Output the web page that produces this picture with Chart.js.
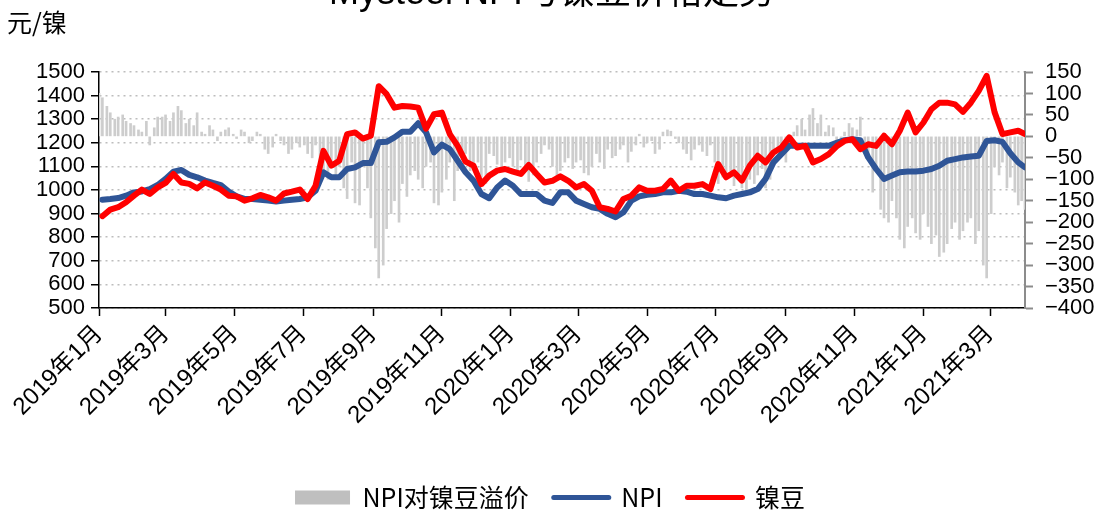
<!DOCTYPE html>
<html>
<head>
<meta charset="utf-8">
<title>Mysteel NPI与镍豆价格走势</title>
<script src="https://cdn.jsdelivr.net/npm/chart.js@4.4.0/dist/chart.umd.min.js"></script>
<style>
  html, body { margin: 0; padding: 0; background: #ffffff; }
  #wrap { width: 1100px; height: 520px; }
</style>
</head>
<body>
<div id="wrap"><canvas id="chart" width="1100" height="520"></canvas></div>
<script>
// 标题与单位
const chartTitle = 'Mysteel NPI与镍豆价格走势';
const unitLabel = '元/镍';

// 周度日期（每周五）
const weekDates = [
    '2019-01-04','2019-01-11','2019-01-18','2019-01-25',
    '2019-02-01','2019-02-08','2019-02-15','2019-02-22',
    '2019-03-01','2019-03-08','2019-03-15','2019-03-22','2019-03-29',
    '2019-04-05','2019-04-12','2019-04-19','2019-04-26',
    '2019-05-03','2019-05-10','2019-05-17','2019-05-24','2019-05-31',
    '2019-06-07','2019-06-14','2019-06-21','2019-06-28',
    '2019-07-05','2019-07-12','2019-07-19','2019-07-26',
    '2019-08-02','2019-08-09','2019-08-16','2019-08-23','2019-08-30',
    '2019-09-06','2019-09-13','2019-09-20','2019-09-27',
    '2019-10-04','2019-10-11','2019-10-18','2019-10-25',
    '2019-11-01','2019-11-08','2019-11-15','2019-11-22','2019-11-29',
    '2019-12-06','2019-12-13','2019-12-20','2019-12-27',
    '2020-01-03','2020-01-10','2020-01-17','2020-01-24','2020-01-31',
    '2020-02-07','2020-02-14','2020-02-21','2020-02-28',
    '2020-03-06','2020-03-13','2020-03-20','2020-03-27',
    '2020-04-03','2020-04-10','2020-04-17','2020-04-24',
    '2020-05-01','2020-05-08','2020-05-15','2020-05-22','2020-05-29',
    '2020-06-05','2020-06-12','2020-06-19','2020-06-26',
    '2020-07-03','2020-07-10','2020-07-17','2020-07-24','2020-07-31',
    '2020-08-07','2020-08-14','2020-08-21','2020-08-28',
    '2020-09-04','2020-09-11','2020-09-18','2020-09-25',
    '2020-10-02','2020-10-09','2020-10-16','2020-10-23','2020-10-30',
    '2020-11-06','2020-11-13','2020-11-20','2020-11-27',
    '2020-12-04','2020-12-11','2020-12-18','2020-12-25',
    '2021-01-01','2021-01-08','2021-01-15','2021-01-22','2021-01-29',
    '2021-02-05','2021-02-12','2021-02-19','2021-02-26',
    '2021-03-05','2021-03-12','2021-03-19','2021-03-26',
    '2021-04-01'
];

// NPI对镍豆溢价（右轴），周五读数
const npiPremium = [
    90, 55, 45, 35,
    25, 10, -20, 45,
    50, 55, 60, 40, 55,
    5, 15, 10, 20,
    -5, 10, -10, 5, -40,
    5, -20, -30, -25,
    -40, -20, -90, -60,
    -70, -145, -155, -70, -190,
    -330, -215, -150, -110,
    -90, -100, -70, -155,
    -130, -60, -80, -40, -70,
    -95, -40, -65, -60,
    -70, -55, -105, -60, -20,
    -70, -80, -50, -60,
    -85, -70, -60, -30,
    -45, -20, -35, 5,
    -15, -40, 10, 12, -15,
    -40, -30, -35, -20,
    -110, -90, -115, -120, -100,
    -90, -120, -40, -20,
    -15, 25, 15, 65,
    50, 25, -10, 10, 20,
    45, -55, -70, -190,
    -150, -240, -210, -225,
    -180, -250, -280, -250, -200,
    -220, -190, -220, -330,
    -70, -60, -95, -160,
    -170
];

// NPI对镍豆溢价（右轴），同周周二读数
const npiPremiumMid = [
    100, 70, 40, 50,
    30, 15, 35, 20,
    45, 35, 70, 30, 25,
    10, 25, -10, 15,
    5, 15, -15, 10, -30,
    -25, -10, -40, -15,
    -20, -50, -60, -100,
    -90, -120, -60, -160, -120,
    -260, -300, -180, -200,
    -140, -80, -120, -60,
    -160, -100, -150, -55, -80,
    -60, -110, -45, -80,
    -50, -85, -70, -90, -40,
    -30, -95, -60, -75,
    -55, -90, -40, -75,
    -50, -30, -60, -20,
    -25, -10, -30, 15, -5,
    -30, -55, -20, -45,
    -60, -95, -80, -100, -130,
    -110, -75, -100, -30,
    -60, 10, 40, 50,
    30, 10, 20, -15, 30,
    15, -30, -130, -170,
    -200, -190, -260, -190,
    -240, -210, -230, -270, -215,
    -240, -200, -250, -300,
    -180, -90, -120, -130,
    -150
];

// NPI 价格（左轴，元/镍）
const npiPrice = [
    959, 962, 966, 976,
    990, 994, 1004, 1021,
    1047, 1078, 1085, 1064, 1054,
    1040, 1030, 1021, 993,
    973, 962, 962, 959, 955,
    951, 955, 959, 962,
    969, 997, 1075, 1054,
    1054, 1089, 1096, 1114, 1114,
    1202, 1204, 1223, 1247,
    1247, 1283, 1244, 1159,
    1192, 1173, 1124, 1075, 1040,
    983, 965, 1011, 1040,
    1018, 983, 983, 983, 955,
    945, 990, 990, 955,
    941, 927, 920, 899,
    885, 906, 955, 973,
    980, 983, 990, 990, 997,
    993, 983, 983, 976,
    969, 965, 976, 983, 990,
    1004, 1047, 1117, 1152,
    1187, 1187, 1187, 1187,
    1187, 1187, 1200, 1211, 1215,
    1211, 1138, 1089, 1047,
    1061, 1075, 1078, 1078,
    1082, 1089, 1103, 1124, 1131,
    1138, 1142, 1145, 1208,
    1211, 1204, 1156, 1117,
    1096
];

// 镍豆价格（左轴，元/镍）
const nickelBean = [
    889, 917, 927, 948,
    976, 1002, 983, 1011,
    1030, 1068, 1032, 1026, 1007,
    1032, 1018, 1002, 976,
    973, 955, 965, 979, 969,
    955, 985, 993, 1002,
    962, 1018, 1166, 1103,
    1124, 1237, 1244, 1218, 1230,
    1440, 1406, 1349, 1356,
    1354, 1349, 1260, 1321,
    1328, 1237, 1187, 1120, 1103,
    1025, 1061, 1082, 1089,
    1078, 1068, 1106, 1068, 1032,
    1039, 1058, 1039, 1011,
    1025, 997, 927, 920,
    909, 962, 976, 1011,
    997, 997, 1004, 1040, 997,
    1018, 1018, 1025, 1004,
    1110, 1054, 1075, 1040, 1103,
    1145, 1117, 1159, 1180,
    1223, 1180, 1187, 1117,
    1131, 1152, 1185, 1208, 1215,
    1173, 1194, 1187, 1230,
    1194, 1251, 1328, 1244,
    1286, 1342, 1370, 1370, 1363,
    1331, 1370, 1420, 1483,
    1330, 1237, 1244, 1251,
    1237
];

// 横轴刻度（每两个月）
const xTickMonths = ['2019-01-01','2019-03-01','2019-05-01','2019-07-01','2019-09-01','2019-11-01',
    '2020-01-01','2020-03-01','2020-05-01','2020-07-01','2020-09-01','2020-11-01',
    '2021-01-01','2021-03-01'];
const xTickLabels = ['2019年1月','2019年3月','2019年5月','2019年7月','2019年9月','2019年11月',
    '2020年1月','2020年3月','2020年5月','2020年7月','2020年9月','2020年11月',
    '2021年1月','2021年3月'];
const xStart = '2019-01-01';
const xEnd = '2021-04-01';

// 日期转为自起点起的天数（线性横轴）
function dayOf(s) {
    return (Date.parse(s) - Date.parse(xStart)) / 864e5;
}
function toPoints(values, shiftDays) {
    return values.map((v, i) => ({ x: dayOf(weekDates[i]) - (shiftDays || 0), y: v }));
}
// 周五与周二两组溢价读数合并，按日期排序
const premiumPoints = toPoints(npiPremium).concat(toPoints(npiPremiumMid, 3))
    .sort((a, b) => a.x - b.x);

const blue = '#2F5597';
const red = '#FF0000';
const barGrey = '#CDCDCD';
const legendGrey = '#BFBFBF';
const tickFont = { family: '"Liberation Sans", "Noto Sans CJK SC", sans-serif', size: 22 };

// 标题（顶部被裁切）和单位
const extraText = {
    id: 'extraText',
    afterDraw(chart) {
        const ctx = chart.ctx;
        ctx.save();
        ctx.fillStyle = '#000';
        ctx.font = '36px "Liberation Sans", "Noto Sans CJK SC", sans-serif';
        ctx.textAlign = 'center';
        ctx.textBaseline = 'alphabetic';
        ctx.fillText(chartTitle, 552, 4);
        ctx.font = '25px "Noto Sans CJK SC", sans-serif';
        ctx.textAlign = 'left';
        ctx.textBaseline = 'middle';
        ctx.fillText(unitLabel, 7, 22);
        ctx.restore();
    }
};

const ctx = document.getElementById('chart').getContext('2d');
new Chart(ctx, {
    type: 'bar',
    data: {
        datasets: [
            {
                type: 'bar',
                label: 'NPI对镍豆溢价',
                data: premiumPoints,
                yAxisID: 'y1',
                backgroundColor: barGrey,
                borderWidth: 0,
                barThickness: 2,
                order: 3
            },
            {
                type: 'line',
                label: 'NPI',
                data: toPoints(npiPrice),
                yAxisID: 'y',
                borderColor: blue,
                backgroundColor: blue,
                borderWidth: 6,
                pointRadius: 0,
                tension: 0,
                borderJoinStyle: 'round',
                borderCapStyle: 'round',
                order: 2
            },
            {
                type: 'line',
                label: '镍豆',
                data: toPoints(nickelBean),
                yAxisID: 'y',
                borderColor: red,
                backgroundColor: red,
                borderWidth: 6,
                pointRadius: 0,
                tension: 0,
                borderJoinStyle: 'round',
                borderCapStyle: 'round',
                order: 1
            }
        ]
    },
    options: {
        responsive: false,
        animation: false,
        layout: { padding: { top: 72, left: 0, right: 0, bottom: 0 } },
        plugins: {
            legend: {
                position: 'bottom',
                labels: {
                    usePointStyle: true,
                    pointStyleWidth: 55,
                    boxHeight: 14,
                    padding: 25,
                    color: '#000',
                    font: { family: '"Noto Sans CJK SC", sans-serif', size: 25 },
                    sort: (a, b) => a.datasetIndex - b.datasetIndex,
                    generateLabels(chart) {
                        const items = Chart.defaults.plugins.legend.labels.generateLabels(chart);
                        items.forEach(item => {
                            const ds = chart.data.datasets[item.datasetIndex];
                            if (ds.type === 'line') {
                                item.pointStyle = 'line';
                                item.lineWidth = 5;
                                item.lineCap = 'round';
                                item.strokeStyle = ds.borderColor;
                            } else {
                                item.pointStyle = 'rect';
                                item.lineWidth = 0;
                                item.fillStyle = legendGrey;
                                item.strokeStyle = legendGrey;
                            }
                        });
                        return items;
                    }
                }
            },
            tooltip: { enabled: false }
        },
        scales: {
            x: {
                type: 'linear',
                min: 0,
                max: dayOf(xEnd),
                offset: false,
                afterBuildTicks(scale) {
                    scale.ticks = xTickMonths.map(m => ({ value: dayOf(m) }));
                },
                afterFit(scale) { scale.height = 152; },
                ticks: {
                    autoSkip: false,
                    minRotation: 45,
                    maxRotation: 45,
                    padding: 4,
                    color: '#000',
                    font: { family: tickFont.family, size: 24 },
                    callback: (value, index) => xTickLabels[index]
                },
                grid: {
                    offset: false,
                    drawOnChartArea: false,
                    drawTicks: true,
                    tickLength: 8,
                    tickColor: '#000',
                    tickWidth: 1.5
                },
                border: { color: '#000', width: 1.5 }
            },
            y: {
                position: 'left',
                min: 500,
                max: 1500,
                afterFit(scale) { scale.width = 99; },
                ticks: {
                    stepSize: 100,
                    autoSkip: false,
                    padding: 6,
                    color: '#000',
                    font: tickFont,
                    callback: v => String(v)
                },
                grid: {
                    color: '#BDBDBD',
                    lineWidth: 1.5,
                    drawTicks: true,
                    tickLength: 8,
                    tickColor: '#000',
                    tickWidth: 1.5
                },
                border: { color: '#000', width: 1.5, dash: [2, 4] }
            },
            y1: {
                position: 'right',
                min: -400,
                max: 150,
                afterFit(scale) { scale.width = 75; },
                ticks: {
                    stepSize: 50,
                    autoSkip: false,
                    padding: 12,
                    color: '#000',
                    font: tickFont,
                    callback: v => String(v).replace('-', '\u2212')
                },
                grid: {
                    drawOnChartArea: false,
                    drawTicks: true,
                    tickLength: 8,
                    tickColor: '#8C8C8C',
                    tickWidth: 2
                },
                border: { color: '#8C8C8C', width: 2 }
            }
        }
    },
    plugins: [extraText]
});
</script>
</body>
</html>
